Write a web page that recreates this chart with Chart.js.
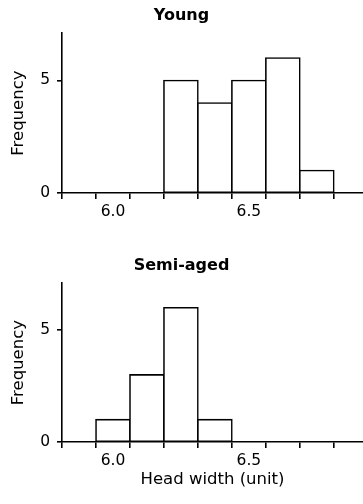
<!DOCTYPE html>
<html>
<head>
<meta charset="utf-8">
<script src="https://cdn.jsdelivr.net/npm/chart.js@4/dist/chart.umd.min.js"></script>
<style>
  html, body { margin: 0; padding: 0; background: #fff; }
  .box { position: relative; width: 363px; }
</style>
</head>
<body>
<div class="box" style="height:250px"><canvas id="young"></canvas></div>
<div class="box" style="height:254px"><canvas id="semi"></canvas></div>
<script>
// histogram bins (head width, unit)
const binCenters = [5.875, 6.0, 6.125, 6.25, 6.375, 6.5, 6.625, 6.75];
const binWidth = 0.125;
const youngCounts = [0, 0, 0, 5, 4, 5, 6, 1];
const semiCounts = [0, 1, 3, 6, 1, 0, 0, 0];
const xTickLabels = [6.0, 6.5];
const yTickValues = [0, 5];
const xAxisMax = 6.92;
const yAxisMax = 7.1;

const FONT = "'DejaVu Sans', 'Liberation Sans', Arial, sans-serif";
Chart.defaults.font.family = FONT;
Chart.defaults.color = '#000';

const LINE = 1.6;
const binEdges = binCenters.map(c => c - binWidth / 2).concat([binCenters[binCenters.length - 1] + binWidth / 2]);
const isLabel = v => xTickLabels.some(l => Math.abs(l - v) < 1e-6);

function makeHist(id, title, counts, opts) {
  return new Chart(document.getElementById(id), {
    type: 'bar',
    data: {
      datasets: [{
        data: binCenters.map((c, i) => ({ x: c, y: counts[i] })),
        backgroundColor: '#fff',
        borderColor: '#000',
        borderWidth: LINE,
        borderSkipped: false,
        inflateAmount: LINE / 2, // so neighbouring bars share one edge line
        barThickness: 'flex',
        barPercentage: 1,
        categoryPercentage: 1
      }]
    },
    options: {
      responsive: true,
      maintainAspectRatio: false,
      animation: false,
      layout: { padding: 0 },
      plugins: {
        legend: { display: false },
        tooltip: { enabled: false },
        title: {
          display: true,
          text: title,
          color: '#000',
          font: { size: 16, weight: 'bold' },
          padding: { top: 6, bottom: 8 }
        }
      },
      scales: {
        x: {
          type: 'linear',
          min: binEdges[0],
          max: xAxisMax,
          offset: false,
          afterBuildTicks: (s) => {
            const vals = binEdges.concat(xTickLabels).sort((a, b) => a - b);
            s.ticks = vals.map(v => ({ value: v }));
          },
          afterFit: (s) => { s.height = opts.xHeight; },
          grid: {
            offset: false,
            drawOnChartArea: false,
            drawTicks: true,
            tickLength: 6,
            lineWidth: LINE,
            tickWidth: LINE,
            tickColor: (ctx) => isLabel(ctx.tick.value) ? 'rgba(0,0,0,0)' : '#000'
          },
          border: { display: true, color: '#000', width: LINE },
          ticks: {
            autoSkip: false,
            maxRotation: 0,
            padding: 4,
            color: '#000',
            font: { size: 15.5 },
            callback: (v) => isLabel(v) ? Number(v).toFixed(1) : ''
          },
          title: {
            display: !!opts.xTitle,
            text: opts.xTitle || '',
            color: '#000',
            font: { size: 16.5 },
            padding: { top: 0, bottom: 14 }
          }
        },
        y: {
          min: 0,
          max: yAxisMax,
          afterBuildTicks: (s) => { s.ticks = yTickValues.map(v => ({ value: v })); },
          afterFit: (s) => { s.width = 62; },
          grid: {
            drawOnChartArea: false,
            drawTicks: true,
            tickLength: 5,
            lineWidth: LINE,
            tickWidth: LINE,
            tickColor: '#000'
          },
          border: { display: true, color: '#000', width: LINE },
          ticks: {
            padding: 7,
            color: '#000',
            font: { size: 15.5 }
          },
          title: {
            display: true,
            text: 'Frequency',
            color: '#000',
            font: { size: 16.5 },
            padding: { top: 9, bottom: 0 }
          }
        }
      }
    }
  });
}

makeHist('young', 'Young', youngCounts, { xHeight: 57 });
makeHist('semi', 'Semi-aged', semiCounts, { xHeight: 62, xTitle: 'Head width (unit)' });
</script>
</body>
</html>
